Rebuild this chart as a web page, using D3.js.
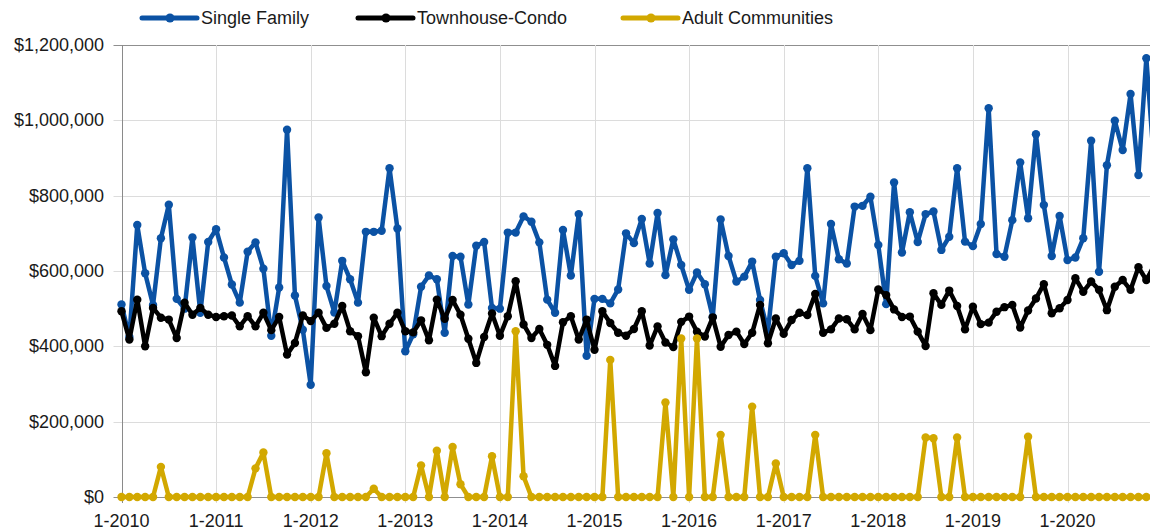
<!DOCTYPE html>
<html>
<head>
<meta charset="utf-8">
<script src="https://cdn.jsdelivr.net/npm/d3@7"></script>
<style>
  body { margin: 0; background: #fff; }
  text { font-family: "Liberation Sans", Arial, sans-serif; fill: #1a1a1a; }
</style>
</head>
<body>
<div id="chart"></div>
<script>
// monthly median prices, Jan 2010 .. Dec 2020 (in $1000s)
var singleFamily = [
  511, 425, 722, 594, 510, 687, 776, 526, 500, 689, 489, 677,
  711, 636, 564, 516, 651, 676, 606, 428, 556, 975, 535, 444,
  298, 742, 560, 490, 627, 578, 516, 704, 704, 707, 873, 713,
  387, 432, 558, 588, 578, 436, 640, 638, 511, 667, 677, 502,
  500, 702, 702, 745, 731, 676, 524, 489, 709, 588, 751, 375,
  526, 526, 514, 551, 700, 674, 738, 620, 754, 589, 684, 616,
  550, 596, 565, 478, 737, 640, 572, 585, 625, 523, 440, 638,
  647, 616, 627, 873, 587, 514, 725, 631, 620, 771, 773, 797,
  669, 512, 835, 649, 756, 677, 751, 758, 656, 691, 873, 678,
  666, 725, 1032, 645, 638, 735, 888, 740, 963, 775, 640, 746,
  629, 636, 687, 946, 598, 881, 999, 921, 1070, 855, 1165, 880
];
var townhouseCondo = [
  493, 418, 524, 400, 502, 476, 471, 422, 516, 484, 502, 484,
  478, 480, 482, 453, 480, 453, 489, 443, 478, 378, 409, 482,
  467, 489, 449, 460, 507, 440, 427, 331, 476, 427, 460, 489,
  440, 437, 469, 416, 524, 473, 523, 484, 420, 356, 425, 487,
  428, 480, 573, 458, 422, 446, 404, 348, 464, 480, 418, 471,
  391, 493, 462, 436, 428, 446, 493, 402, 453, 410, 398, 465,
  479, 439, 426, 477, 399, 430, 439, 406, 436, 510, 408, 474,
  433, 470, 489, 483, 539, 436, 445, 474, 472, 445, 486, 443,
  551, 536, 498, 478, 479, 439, 401, 541, 510, 548, 507, 445,
  505, 459, 463, 492, 504, 510, 450, 495, 527, 565, 488, 501,
  523, 581, 545, 572, 550, 496, 558, 576, 550, 610, 576, 615
];
var adultCommunities = [
  0, 0, 0, 0, 0, 80, 0, 0, 0, 0, 0, 0,
  0, 0, 0, 0, 0, 76, 118, 0, 0, 0, 0, 0,
  0, 0, 116, 0, 0, 0, 0, 0, 22, 0, 0, 0,
  0, 0, 84, 0, 123, 0, 133, 34, 0, 0, 0, 108,
  0, 0, 440, 55, 0, 0, 0, 0, 0, 0, 0, 0,
  0, 0, 364, 0, 0, 0, 0, 0, 0, 251, 0, 421,
  0, 421, 0, 0, 165, 0, 0, 0, 240, 0, 0, 89,
  0, 0, 0, 0, 165, 0, 0, 0, 0, 0, 0, 0,
  0, 0, 0, 0, 0, 0, 158, 156, 0, 0, 158, 0,
  0, 0, 0, 0, 0, 0, 0, 160, 0, 0, 0, 0,
  0, 0, 0, 0, 0, 0, 0, 0, 0, 0, 0, 0
];
var seriesNames = ["Single Family", "Townhouse-Condo", "Adult Communities"];
var xTickLabels = ["1-2010", "1-2011", "1-2012", "1-2013", "1-2014", "1-2015",
                   "1-2016", "1-2017", "1-2018", "1-2019", "1-2020"];
var yTicks = [0, 200000, 400000, 600000, 800000, 1000000, 1200000];

function init(){

    var w = 1150;
    var h = 530;
    var colors = ["#0b52a4", "#000000", "#d2a800"];

    var svg = d3.select("#chart")
        .append("svg")
        .attr("width", w)
        .attr("height", h);

    // 120 months span 946px, plot runs past the right edge
    var x = d3.scaleLinear()
        .domain([0, 120])
        .range([121.5, 1067.5]);

    var y = d3.scaleLinear()
        .domain([0, 1200000])
        .range([497, 45]);

    // grid (with small outside ticks)
    svg.selectAll(".hgrid")
        .data(yTicks)
        .enter()
        .append("line")
        .attr("x1", x(0) - 8)
        .attr("x2", w)
        .attr("y1", d => Math.round(y(d)) + 0.5)
        .attr("y2", d => Math.round(y(d)) + 0.5)
        .attr("stroke", d => (d == 1200000 || d == 0 ? "#8f8f8f" : "#dcdcdc"))
        .attr("stroke-width", 1);

    var xTicks = xTickLabels.map((d, i) => i * 12);

    svg.selectAll(".vgrid")
        .data(xTicks)
        .enter()
        .append("line")
        .attr("x1", d => Math.round(x(d)) + 0.5)
        .attr("x2", d => Math.round(x(d)) + 0.5)
        .attr("y1", y(1200000))
        .attr("y2", y(0) + 6)
        .attr("stroke", (d, i) => (i == 0 ? "#8a8a8a" : "#dcdcdc"))
        .attr("stroke-width", 1);

    // y labels
    var fmt = d3.format("$,");
    svg.selectAll(".ylab")
        .data(yTicks)
        .enter()
        .append("text")
        .attr("x", 104)
        .attr("y", d => y(d) + 6)
        .attr("text-anchor", "end")
        .style("font-size", "18px")
        .text(d => fmt(d));

    // x labels
    svg.selectAll(".xlab")
        .data(xTicks)
        .enter()
        .append("text")
        .attr("x", d => x(d))
        .attr("y", 527)
        .attr("text-anchor", "middle")
        .style("font-size", "18px")
        .text((d, i) => xTickLabels[i]);

    // series
    var allSeries = [singleFamily, townhouseCondo, adultCommunities];
    var line = d3.line()
        .x((d, i) => x(i))
        .y(d => y(d * 1000));

    allSeries.forEach(function(vals, s){
        var g = svg.append("g");
        g.append("path")
            .datum(vals)
            .attr("d", line)
            .attr("fill", "none")
            .attr("stroke", colors[s])
            .attr("stroke-width", 4.5)
            .attr("stroke-linejoin", "round");
        g.selectAll("circle")
            .data(vals)
            .enter()
            .append("circle")
            .attr("cx", (d, i) => x(i))
            .attr("cy", d => y(d * 1000))
            .attr("r", 4.2)
            .attr("fill", colors[s]);
    });

    // legend
    var legendX = [142, 358, 623];
    var legend = svg.selectAll(".legend")
        .data(seriesNames)
        .enter()
        .append("g")
        .attr("transform", (d, i) => "translate(" + legendX[i] + ",18)");

    legend.append("line")
        .attr("x1", 0)
        .attr("x2", 55)
        .attr("y1", 0)
        .attr("y2", 0)
        .attr("stroke", (d, i) => colors[i])
        .attr("stroke-width", 5)
        .attr("stroke-linecap", "round");
    legend.append("circle")
        .attr("cx", 28)
        .attr("cy", 0)
        .attr("r", 4.5)
        .attr("fill", (d, i) => colors[i]);
    legend.append("text")
        .attr("x", 59)
        .attr("y", 6)
        .style("font-size", "18px")
        .text(d => d);
}
window.onload = init;
</script>
</body>
</html>
